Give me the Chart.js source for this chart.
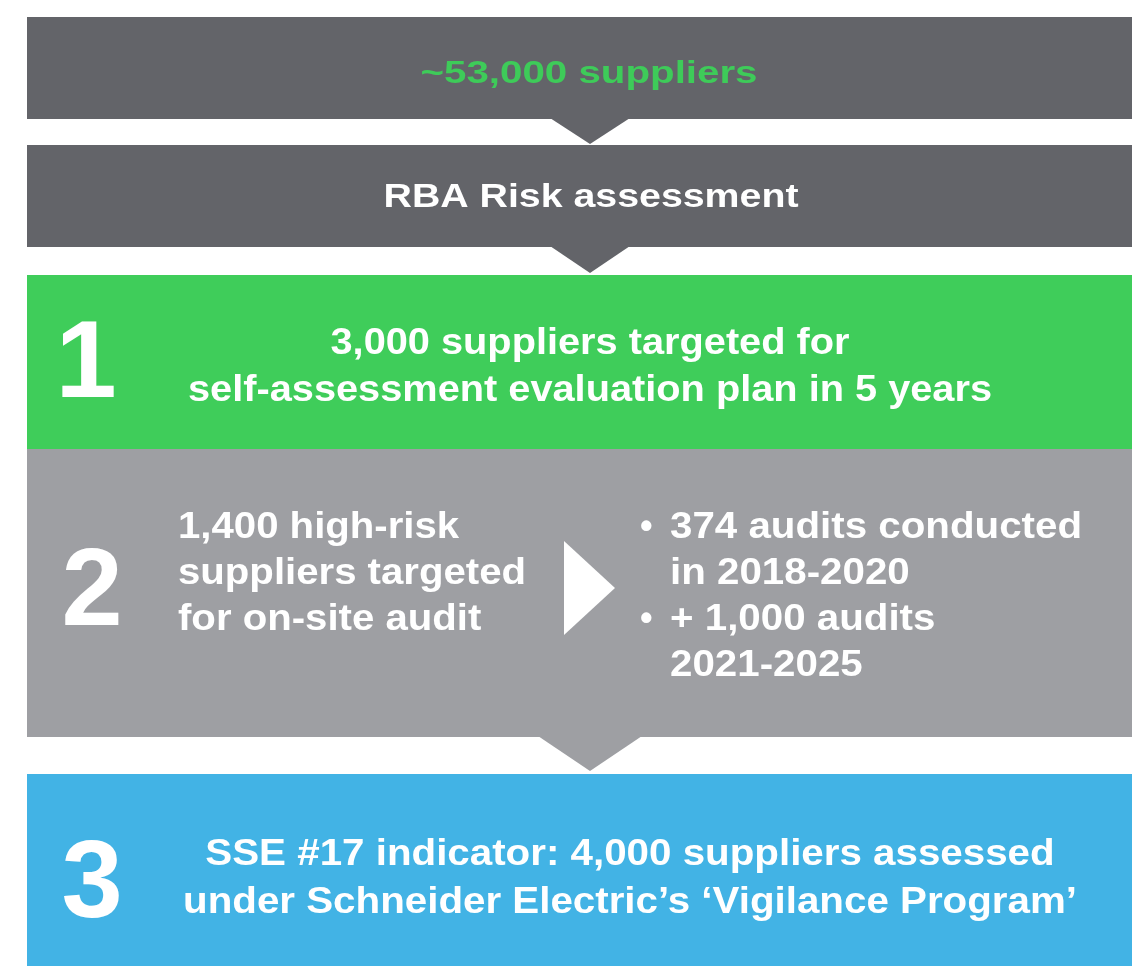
<!DOCTYPE html>
<html>
<head>
<meta charset="utf-8">
<script src="https://cdn.jsdelivr.net/npm/chart.js@4.4.1/dist/chart.umd.min.js"></script>
<style>
  html, body { margin: 0; padding: 0; background: #fff; }
  #flow { display: block; }
</style>
</head>
<body>
<canvas id="flow" width="1132" height="966"></canvas>
<script>
// text of each stage, top to bottom
const supplierBase = ['~53,000 suppliers'];
const riskStage = ['RBA Risk assessment'];
const stepNumbers = ['1', '2', '3'];
const step1Lines = ['3,000 suppliers targeted for', 'self-assessment evaluation plan in 5 years'];
const step2Left = ['1,400 high-risk', 'suppliers targeted', 'for on-site audit'];
const step2Right = ['374 audits conducted', 'in 2018-2020', '+ 1,000 audits', '2021-2025'];
const step2Bullets = [true, false, true, false];
const step3Lines = ['SSE #17 indicator: 4,000 suppliers assessed', 'under Schneider Electric\u2019s \u2018Vigilance Program\u2019'];

const colors = {
    dark: '#636469',
    green: '#3fcd5a',
    grey: '#9e9fa3',
    blue: '#42b3e5',
    headerText: '#3ecb59',
};

const FONT = '"Liberation Sans", Arial, sans-serif';

// bands: top / bottom in canvas units, arrow = triangle hanging under the band
const bands = [
    { top: 17, bottom: 119, color: colors.dark, arrow: { half: 40, depth: 25 } },
    { top: 145, bottom: 247, color: colors.dark, arrow: { half: 40, depth: 26 } },
    { top: 275, bottom: 449, color: colors.green },
    { top: 449, bottom: 737, color: colors.grey, arrow: { half: 52, depth: 34 } },
    { top: 774, bottom: 966, color: colors.blue },
];

const flowPlugin = {
    id: 'flow',
    afterDraw(chart) {
        const ctx = chart.ctx;
        const xs = chart.scales.x;
        const ys = chart.scales.y;
        const px = (v) => xs.getPixelForValue(v);
        const py = (v) => ys.getPixelForValue(v);

        const left = 27, right = 1132, tipX = 590;

        ctx.save();
        bands.forEach((b) => {
            ctx.fillStyle = b.color;
            ctx.fillRect(px(left), py(b.top), px(right) - px(left), py(b.bottom) - py(b.top));
            if (b.arrow) {
                ctx.beginPath();
                ctx.moveTo(px(tipX - b.arrow.half), py(b.bottom) - 1);
                ctx.lineTo(px(tipX + b.arrow.half), py(b.bottom) - 1);
                ctx.lineTo(px(tipX), py(b.bottom + b.arrow.depth));
                ctx.closePath();
                ctx.fill();
            }
        });

        // white arrow inside step 2
        ctx.fillStyle = '#fff';
        ctx.beginPath();
        ctx.moveTo(px(564), py(541));
        ctx.lineTo(px(615), py(588));
        ctx.lineTo(px(564), py(635));
        ctx.closePath();
        ctx.fill();

        // draws a block of lines, squeezed/stretched so the reference line gets its width
        const block = (lines, opt) => {
            ctx.font = `bold ${opt.size}px ${FONT}`;
            ctx.fillStyle = opt.color || '#fff';
            ctx.textBaseline = 'alphabetic';
            const ref = ctx.measureText(lines[opt.refLine || 0]).width;
            const sx = opt.width ? opt.width / ref : 1;
            lines.forEach((line, i) => {
                const w = ctx.measureText(line).width * sx;
                let x = opt.align === 'left' ? opt.x : opt.x - w / 2;
                ctx.save();
                ctx.translate(px(x), py(opt.baseline + i * (opt.step || 0)));
                ctx.scale(sx, 1);
                ctx.textAlign = 'left';
                ctx.fillText(line, 0, 0);
                ctx.restore();
            });
        };

        block(supplierBase, { size: 31, width: 337, x: 589, baseline: 83, color: colors.headerText });
        block(riskStage, { size: 34, width: 415, x: 591, baseline: 207 });
        block(step1Lines, { size: 37, width: 804, x: 590, baseline: 354, step: 47, refLine: 1 });
        block(step2Left, { size: 36, width: 348, x: 178, baseline: 538, step: 46, refLine: 1, align: 'left' });
        block(step2Right, { size: 36, width: 412, x: 670, baseline: 538, step: 46, align: 'left' });
        block(step3Lines, { size: 36, width: 894, x: 630, baseline: 865, step: 48, refLine: 1 });

        // bullets
        ctx.font = `bold 36px ${FONT}`;
        ctx.fillStyle = '#fff';
        ctx.textAlign = 'left';
        step2Right.forEach((line, i) => {
            if (step2Bullets[i]) ctx.fillText('\u2022', px(640), py(538 + i * 46));
        });

        // step numbers
        ctx.font = `bold 110px ${FONT}`;
        ctx.textAlign = 'center';
        const numBase = [397, 625, 917];
        stepNumbers.forEach((n, i) => {
            ctx.fillText(n, px(n === '1' ? 86 : 92), py(numBase[i]));
        });
        ctx.restore();
    },
};

new Chart(document.getElementById('flow'), {
    type: 'scatter',
    data: { datasets: [{ data: [] }] },
    options: {
        responsive: false,
        animation: false,
        layout: { padding: 0 },
        plugins: { legend: { display: false }, tooltip: { enabled: false } },
        scales: {
            x: { type: 'linear', min: 0, max: 1132, display: false },
            y: { type: 'linear', min: 0, max: 966, reverse: true, display: false },
        },
    },
    plugins: [flowPlugin],
});
</script>
</body>
</html>
